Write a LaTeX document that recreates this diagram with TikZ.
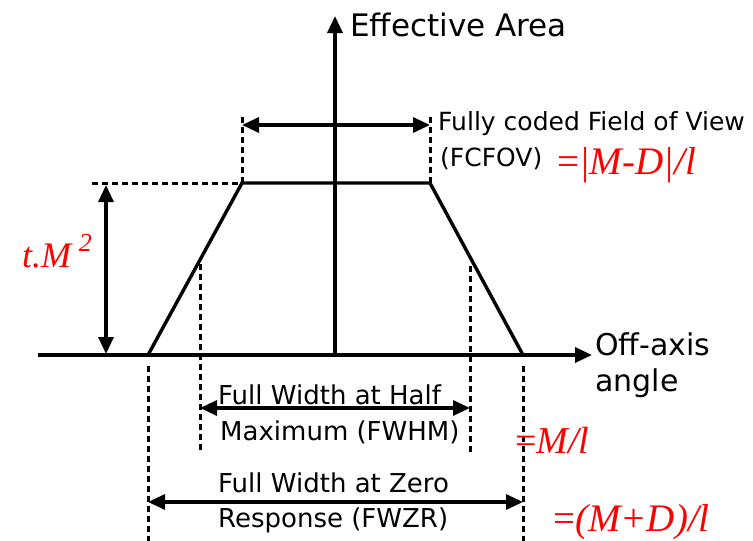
\documentclass[tikz,border=0pt]{standalone}
\usepackage{fontspec}
\setmainfont{Liberation Serif}
\setsansfont{DejaVu Sans}
\usetikzlibrary{arrows.meta}
\tikzset{
  axisline/.style={line width=3.4pt, -{Triangle[length=17pt,width=15pt]}},
  curve/.style={line width=3.4pt, line join=miter},
  guide/.style={line width=3pt, dash pattern=on 6pt off 4pt},
  dimarrow/.style={line width=3.2pt, {Triangle[length=17pt,width=15pt]}-{Triangle[length=17pt,width=15pt]}},
  lbl/.style={font=\sffamily\fontsize{25}{29}\selectfont, anchor=base west, inner sep=0pt},
  biglbl/.style={lbl, font=\sffamily\fontsize{30}{34}\selectfont},
  midlbl/.style={lbl, font=\sffamily\fontsize{26}{30}\selectfont},
  redlbl/.style={text=red, anchor=base west, inner sep=0pt}
}
\begin{document}
\begin{tikzpicture}[x=1pt,y=-1pt]
\useasboundingbox (0,0) rectangle (753,541);
% key coordinates
\coordinate (xs) at (38,355);
\coordinate (xe) at (592,355);
\coordinate (O) at (335,355);
\coordinate (ye) at (335,16);
\coordinate (BL) at (148,355);
\coordinate (TL) at (242,183);
\coordinate (TR) at (430,183);
\coordinate (BR) at (523,355);
\coordinate (HL) at (200,264);
\coordinate (HR) at (470,266);
% axes
\draw[axisline] (xs) -- (xe);
\draw[axisline] (O) -- (ye);
% trapezoid
\draw[curve] (BL) -- (TL) -- (TR) -- (BR);
% guides
\coordinate (tl0) at (92,183);
\draw[guide] (tl0) -- (TL);
\coordinate (TLu) at (242,116);
\coordinate (TRu) at (430,116);
\draw[guide] (TL) -- (TLu);
\draw[guide] (TR) -- (TRu);
\coordinate (HLd) at (200,452);
\coordinate (HRd) at (470,452);
\draw[guide] (HL) -- (HLd);
\draw[guide] (HR) -- (HRd);
\coordinate (BLs) at (148,366);
\coordinate (BLd) at (148,541);
\coordinate (BRs) at (523,366);
\coordinate (BRd) at (523,541);
\draw[guide] (BLs) -- (BLd);
\draw[guide] (BRs) -- (BRd);
% dimension arrows
\coordinate (ha) at (106,185);
\coordinate (hb) at (106,354);
\draw[dimarrow] (ha) -- (hb);
\coordinate (fa) at (242,125);
\coordinate (fb) at (430,125);
\draw[dimarrow] (fa) -- (fb);
\coordinate (wa) at (200,408);
\coordinate (wb) at (470,408);
\draw[dimarrow] (wa) -- (wb);
\coordinate (za) at (148,502);
\coordinate (zb) at (523,502);
\draw[dimarrow] (za) -- (zb);
% labels
\node[biglbl, font=\sffamily\fontsize{31}{35}\selectfont] (ea) at (350,36) {Effective Area};
\node[lbl] (fc1) at (438,130) {Fully coded Field of View};
\node[lbl] (fc2) at (440,166) {(FCFOV)};
\node[redlbl, font=\fontsize{39}{42}\selectfont] (fcr) at (557,174) {=\textit{|M-D|/l}};
\node[redlbl, font=\fontsize{36}{40}\selectfont] (tm) at (22,267) {\textit{t.M}\,\raisebox{0.42em}{\fontsize{26}{30}\selectfont\textit{2}}};
\node[biglbl] (oa1) at (595,355) {Off-axis};
\node[biglbl] (oa2) at (595,391) {angle};
\node[midlbl] (hm1) at (218,404) {Full Width at Half};
\node[midlbl] (hm2) at (220,440) {Maximum (FWHM)};
\node[redlbl, font=\fontsize{38}{42}\selectfont] (hmr) at (515,453) {=\textit{M/l}};
\node[midlbl] (zr1) at (218,492) {Full Width at Zero};
\node[midlbl] (zr2) at (218,527) {Response (FWZR)};
\node[redlbl, font=\fontsize{39}{42}\selectfont] (zrr) at (553,531) {=\textit{(M+D)/l}};
\end{tikzpicture}
\end{document}
